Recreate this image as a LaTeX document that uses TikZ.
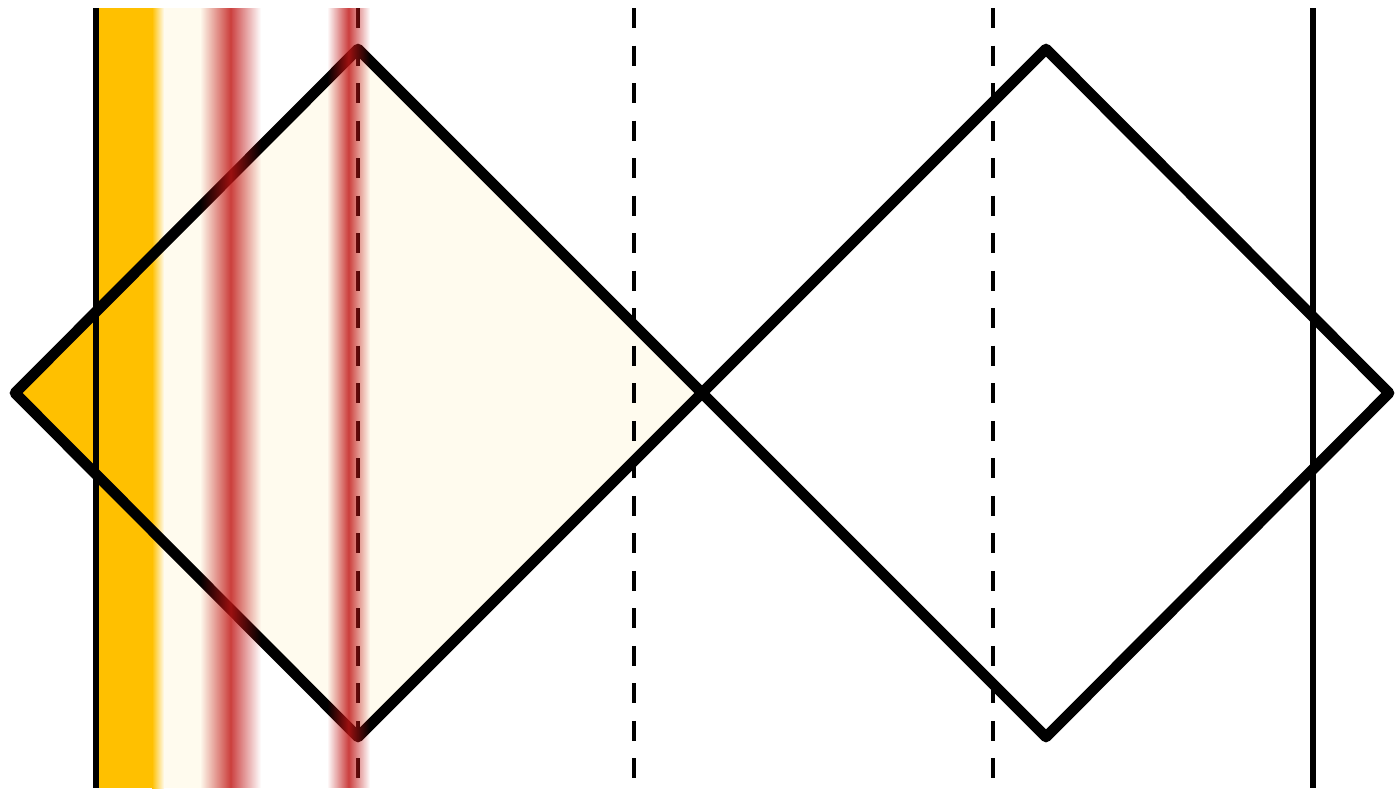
\documentclass[tikz,border=0pt]{standalone}
\usepackage{tikz}
\definecolor{creamfill}{RGB}{255,251,238}
\definecolor{bandyellow}{RGB}{255,192,0}
\definecolor{bandred}{RGB}{192,20,20}
\tikzset{
  rim/.style    = {line width=3.05pt,line join=round,draw=black},
  wall/.style   = {line width=1.5pt,draw=black},
  guide/.style  = {line width=1.4pt,draw=black,dash pattern=on 5.69pt off 4.98pt},
}
\begin{document}
\begin{tikzpicture}[x=0.01cm,y=-0.01cm]
  \useasboundingbox (0,0) rectangle (1397,793);
  % diamond corners
  \coordinate (lw) at (15,393);
  \coordinate (lt) at (358,49);
  \coordinate (mid) at (702,393);
  \coordinate (lb) at (358,737);
  \coordinate (rt) at (1046,49);
  \coordinate (re) at (1389,393);
  \coordinate (rb) at (1046,737);
  % filled strips under the lines
  \fill[creamfill] (96,8) rectangle (232,788);
  \fill[creamfill] (lw) -- (lt) -- (mid) -- (lb) -- cycle;
  \begin{scope}
    \clip (lw) -- (lt) -- (mid) -- (lb) -- cycle;
    \fill[bandyellow] (0,0) rectangle (96,793);
  \end{scope}
  \fill[bandyellow] (96,8) rectangle (152,788);
  \shade[left color=bandyellow,right color=creamfill] (152,8) rectangle (164,788);
  % vertical lines
  \draw[wall] (96,8) -- (96,788);
  \draw[wall] (1313,8) -- (1313,788);
  \foreach \xg in {358,634,993}
    \draw[guide] (\xg,8) -- (\xg,778);
  % the two diamonds
  \draw[rim] (lw) -- (lt) -- (mid) -- (lb) -- cycle;
  \draw[rim] (mid) -- (rt) -- (re) -- (rb) -- cycle;
  % red bands on top, built from thin strips
  \foreach \c/\hw in {231/29,349/20}{
    \foreach \i in {0,...,\hw}{
      \pgfmathsetmacro\op{0.8*(1-\i/(\hw+1))}
      \fill[bandred,opacity=\op] (\c+\i,8) rectangle (\c+\i+1,788);
      \fill[bandred,opacity=\op] (\c-\i-1,8) rectangle (\c-\i,788);
    }
  }
\end{tikzpicture}
\end{document}
